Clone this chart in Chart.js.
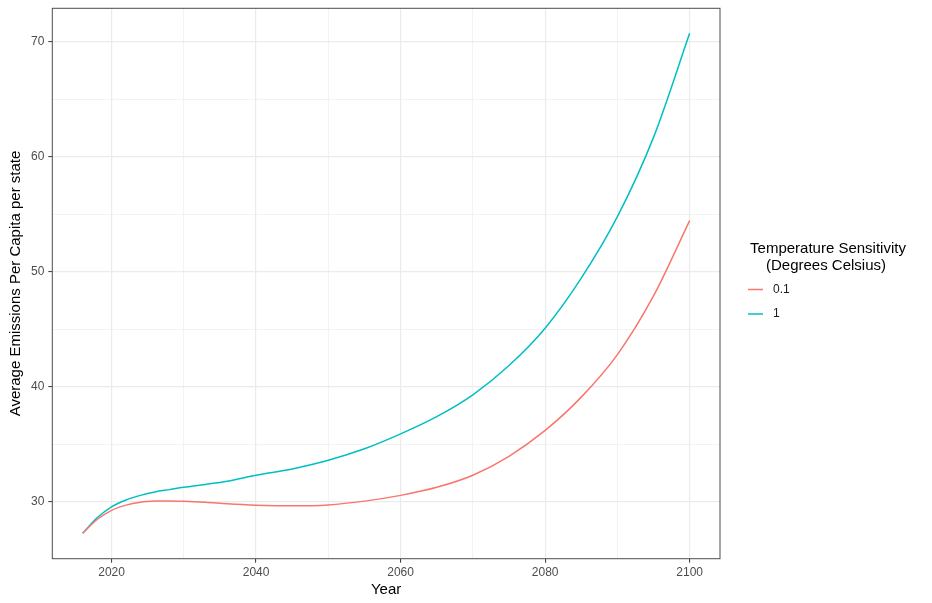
<!DOCTYPE html>
<html>
<head>
<meta charset="utf-8">
<script src="https://cdn.jsdelivr.net/npm/chart.js@4.4.0/dist/chart.umd.min.js"></script>
<style>
  body { margin: 0; background: #fff; }
  #wrap { width: 932px; height: 603px; }
</style>
</head>
<body>
<div id="wrap"><canvas id="emissions-chart"></canvas></div>
<script>
// values
var years = [2016, 2018, 2020, 2022, 2024, 2026, 2028, 2030, 2033, 2036, 2040, 2045, 2050, 2055, 2060, 2065, 2070, 2075, 2080, 2085, 2090, 2095, 2100];
var sens01 = [27.25, 28.45, 29.25, 29.7, 29.95, 30.05, 30.07, 30.04, 29.95, 29.82, 29.7, 29.64, 29.72, 30.05, 30.55, 31.25, 32.3, 33.95, 36.2, 39.1, 42.8, 47.9, 54.45];
var sens1 = [27.25, 28.6, 29.55, 30.15, 30.55, 30.85, 31.05, 31.25, 31.5, 31.78, 32.3, 32.85, 33.6, 34.6, 35.9, 37.4, 39.3, 41.85, 45.1, 49.45, 54.8, 61.7, 70.75];
var seriesNames = ['0.1', '1'];
var xMajor = [2020, 2040, 2060, 2080, 2100];
var xMinor = [2030, 2050, 2070, 2090];
var yMajor = [30, 40, 50, 60, 70];
var yMinor = [35, 45, 55, 65];

function toPoints(vals) {
    return years.map(function (yr, i) { return { x: yr, y: vals[i] }; });
}

function isMajor(list, v) {
    return list.indexOf(v) !== -1;
}

// panel border + legend drawn by hand, ggplot style
var panelAndLegend = {
    id: 'panelAndLegend',
    afterDraw: function (chart) {
        var ctx = chart.ctx;
        var a = chart.chartArea;
        ctx.save();
        ctx.strokeStyle = '#4d4d4d';
        ctx.lineWidth = 1;
        ctx.strokeRect(a.left, a.top, a.right - a.left, a.bottom - a.top);

        ctx.fillStyle = '#000';
        ctx.font = '15px "Liberation Sans", Arial, sans-serif';
        ctx.textAlign = 'center';
        ctx.textBaseline = 'middle';
        ctx.fillText('Temperature Sensitivity', 828, 249);
        ctx.fillText('(Degrees Celsius)', 826, 266);

        ctx.font = '12px "Liberation Sans", Arial, sans-serif';
        ctx.textAlign = 'left';
        chart.data.datasets.forEach(function (ds, i) {
            var y = 289.5 + i * 24.5;
            ctx.strokeStyle = ds.borderColor;
            ctx.lineWidth = 1.5;
            ctx.beginPath();
            ctx.moveTo(748, y);
            ctx.lineTo(763, y);
            ctx.stroke();
            ctx.fillStyle = '#1a1a1a';
            ctx.fillText(ds.label, 773, y);
        });
        ctx.restore();
    }
};

var ctx1 = document.getElementById('emissions-chart').getContext('2d');
var emissionsChart = new Chart(ctx1, {
    type: 'line',
    data: {
        datasets: [{
            label: seriesNames[0],
            data: toPoints(sens01),
            borderColor: '#F8766D',
            borderWidth: 1.5,
            pointRadius: 0,
            cubicInterpolationMode: 'monotone'
        }, {
            label: seriesNames[1],
            data: toPoints(sens1),
            borderColor: '#00BFC4',
            borderWidth: 1.5,
            pointRadius: 0,
            cubicInterpolationMode: 'monotone'
        }]
    },
    options: {
        responsive: true,
        maintainAspectRatio: false,
        animation: false,
        events: [],
        layout: {
            padding: { top: 8.3, right: 212, bottom: 0, left: 0 }
        },
        plugins: {
            legend: { display: false },
            tooltip: { enabled: false }
        },
        scales: {
            x: {
                type: 'linear',
                min: 2011.8,
                max: 2104.2,
                afterBuildTicks: function (scale) {
                    scale.ticks = xMajor.concat(xMinor).sort().map(function (v) { return { value: v }; });
                },
                afterFit: function (scale) {
                    scale.height = 603 - 558.7;
                    scale.paddingLeft = 0;
                    scale.paddingRight = 0;
                },
                grid: {
                    color: '#ebebeb',
                    lineWidth: function (c) { return isMajor(xMajor, c.tick && c.tick.value) ? 1.2 : 0.6; },
                    tickColor: function (c) { return isMajor(xMajor, c.tick && c.tick.value) ? '#333333' : 'rgba(0,0,0,0)'; },
                    tickWidth: 1,
                    tickLength: 4
                },
                border: { display: false },
                ticks: {
                    color: '#4d4d4d',
                    font: { family: '"Liberation Sans", Arial, sans-serif', size: 12 },
                    padding: 3,
                    maxRotation: 0,
                    autoSkip: false,
                    callback: function (v) { return isMajor(xMajor, v) ? String(v) : ''; }
                },
                title: {
                    display: true,
                    text: 'Year',
                    color: '#000',
                    font: { family: '"Liberation Sans", Arial, sans-serif', size: 15 },
                    padding: { top: 0, bottom: 4 }
                }
            },
            y: {
                min: 25.04,
                max: 72.93,
                afterBuildTicks: function (scale) {
                    scale.ticks = yMajor.concat(yMinor).sort().map(function (v) { return { value: v }; });
                },
                afterFit: function (scale) {
                    scale.width = 52.3;
                    scale.paddingTop = 0;
                    scale.paddingBottom = 0;
                },
                grid: {
                    color: '#ebebeb',
                    lineWidth: function (c) { return isMajor(yMajor, c.tick && c.tick.value) ? 1.2 : 0.6; },
                    tickColor: function (c) { return isMajor(yMajor, c.tick && c.tick.value) ? '#333333' : 'rgba(0,0,0,0)'; },
                    tickWidth: 1,
                    tickLength: 4
                },
                border: { display: false },
                ticks: {
                    color: '#4d4d4d',
                    font: { family: '"Liberation Sans", Arial, sans-serif', size: 12 },
                    padding: 4,
                    autoSkip: false,
                    callback: function (v) { return isMajor(yMajor, v) ? String(v) : ''; }
                },
                title: {
                    display: true,
                    text: 'Average Emissions Per Capita per state',
                    color: '#000',
                    font: { family: '"Liberation Sans", Arial, sans-serif', size: 15 },
                    padding: { top: 7, bottom: 0 }
                }
            }
        }
    },
    plugins: [panelAndLegend]
});
</script>
</body>
</html>
